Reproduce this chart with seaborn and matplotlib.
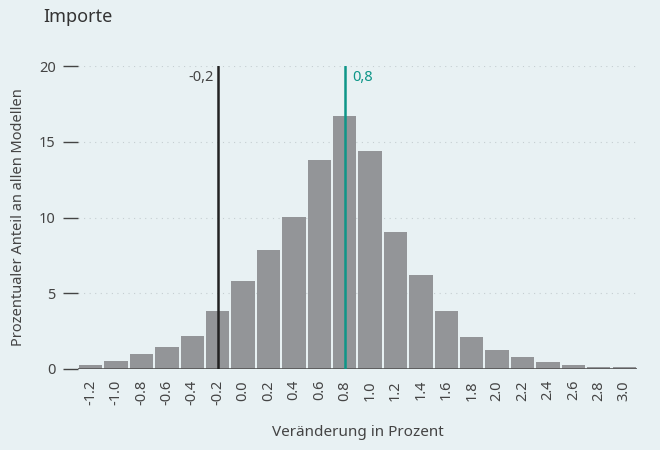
import matplotlib
matplotlib.use("Agg")
import matplotlib.pyplot as plt
import seaborn as sns

# Data
labels = ['-1.2', '-1.0', '-0.8', '-0.6', '-0.4', '-0.2', '0.0', '0.2', '0.4', '0.6', '0.8',
          '1.0', '1.2', '1.4', '1.6', '1.8', '2.0', '2.2', '2.4', '2.6', '2.8', '3.0']
values = [0.25, 0.5, 1.0, 1.45, 2.15, 3.8, 5.8, 7.85, 10.05, 13.8, 16.7,
          14.4, 9.05, 6.2, 3.8, 2.1, 1.25, 0.8, 0.45, 0.25, 0.15, 0.15]
median_label = '-0.2'
mean_label = '0.8'

bg = '#e8f1f3'
bar_col = '#939598'
teal = '#0e9688'
txt = '#444444'

sns.set_style("white")
plt.rcParams['font.family'] = ['Noto Sans', 'DejaVu Sans']

fig = plt.figure(figsize=(6.6, 4.5), dpi=100, facecolor=bg)
ax = fig.add_axes([0.118, 0.18, 0.847, 0.673])
ax.set_facecolor(bg)

sns.barplot(x=labels, y=values, color=bar_col, saturation=1, width=0.92,
            linewidth=0, ax=ax)

ax.set_ylim(0, 20)
ax.set_xlim(-0.5, len(labels) - 0.5)
ax.set_yticks([0, 5, 10, 15, 20])
ax.yaxis.grid(True, linestyle=(0, (1, 4)), color='#c5ced1', linewidth=0.8)
ax.set_axisbelow(True)
ax.axhline(0, color='#555555', linewidth=1.2, zorder=3)

for s in ax.spines.values():
    s.set_visible(False)

ax.tick_params(axis='y', left=True, length=11, width=1, color='#444444',
               labelsize=10.5, labelcolor=txt, pad=5)
ax.tick_params(axis='x', bottom=False, length=0, labelsize=10.5, labelcolor=txt,
               pad=8, labelrotation=90)

# reference lines
x1 = labels.index(median_label)
x2 = labels.index(mean_label)
ax.axvline(x1, color='#222222', linewidth=1.8, zorder=4)
ax.axvline(x2, color=teal, linewidth=1.8, zorder=4)
ax.text(x1 - 0.15, 19.75, median_label.replace('.', ','), ha='right', va='top',
        fontsize=10.5, color=txt)
ax.text(x2 + 0.3, 19.75, mean_label.replace('.', ','), ha='left', va='top',
        fontsize=10.5, color=teal)

ax.set_xlabel('Veränderung in Prozent', fontsize=11, color=txt, labelpad=14)
ax.set_ylabel('Prozentualer Anteil an allen Modellen', fontsize=10.5, color=txt, labelpad=9)
fig.text(0.065, 0.962, 'Importe', fontsize=13, color='#333333', ha='left', va='center')

fig.savefig('out.png', dpi=100, facecolor=bg)
